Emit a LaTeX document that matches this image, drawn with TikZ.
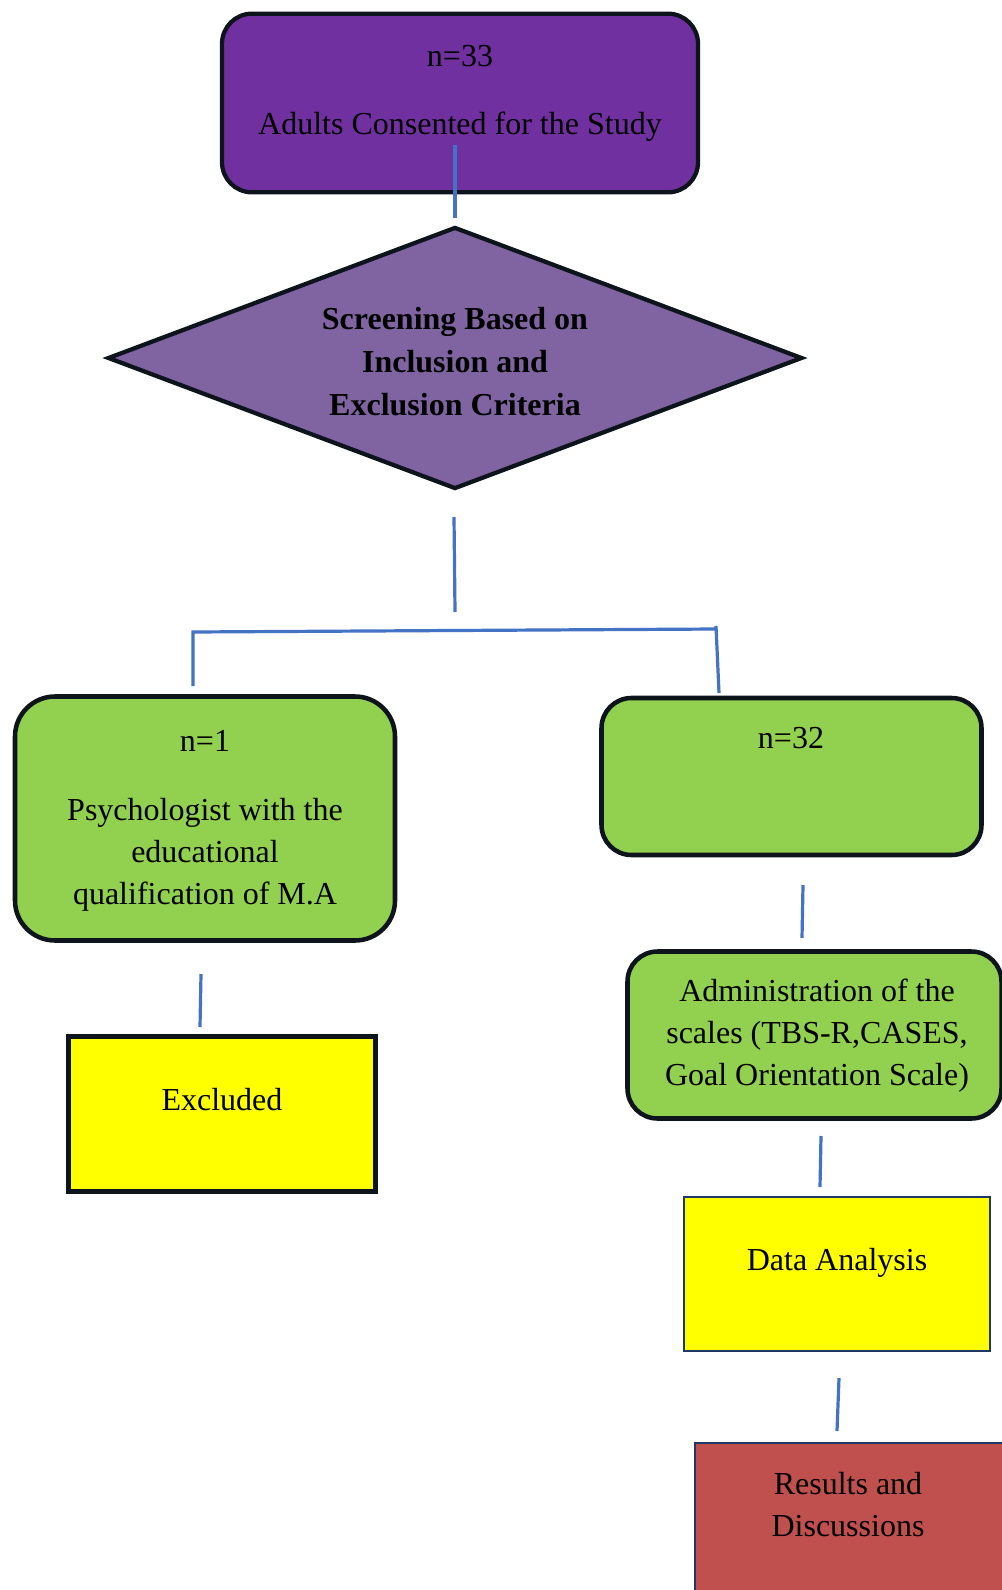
\documentclass[tikz,border=0pt]{standalone}
\usepackage{fontspec}
\setmainfont{Liberation Serif}
\usetikzlibrary{shapes.geometric}
\definecolor{consentviolet}{RGB}{112,48,160}
\definecolor{screenviolet}{RGB}{128,100,162}
\definecolor{groupgreen}{RGB}{146,208,80}
\definecolor{stepyellow}{RGB}{255,255,0}
\definecolor{resultred}{RGB}{192,80,77}
\definecolor{edgenavy}{RGB}{31,56,100}
\definecolor{outline}{RGB}{14,20,28}
\definecolor{linkblue}{RGB}{68,114,196}

\begin{document}
\begin{tikzpicture}[x=0.75pt,y=-0.75pt,
  txt/.style={inner sep=0pt,align=center,font=\fontsize{24pt}{31.5pt}\selectfont},
  boldtxt/.style={txt,font=\fontsize{24pt}{32.25pt}\selectfont\bfseries},
  roundbox/.style={draw=outline,line width=3.4pt,rounded corners=22.5pt,inner sep=0pt},
  plainbox/.style={draw=edgenavy,line width=1.5pt,inner sep=0pt},
  link/.style={draw=linkblue,line width=2.4pt}]
\useasboundingbox (0,0) rectangle (1001,1590);

\node[roundbox,fill=consentviolet,line width=3.2pt,minimum width=357pt,minimum height=134pt](consent) at (460,103){};
\node[draw=outline,line width=3.2pt,fill=screenviolet,diamond,inner sep=0pt,minimum width=521pt,minimum height=196.5pt](screen) at (455,358){};
\node[roundbox,fill=groupgreen,rounded corners=30pt,minimum width=285pt,minimum height=183pt](psych) at (205,818.5){};
\node[roundbox,fill=groupgreen,minimum width=285pt,minimum height=117.75pt](adults) at (791.5,776.5){};
\node[roundbox,fill=groupgreen,minimum width=280.5pt,minimum height=125.25pt](admin) at (814.5,1035){};
\node[draw=outline,line width=3.6pt,fill=stepyellow,inner sep=0pt,minimum width=230.25pt,minimum height=116.25pt](excluded) at (222,1114){};
\node[plainbox,fill=stepyellow,minimum width=229.5pt,minimum height=115.5pt](analysis) at (837,1274){};
\node[plainbox,fill=resultred,minimum width=240pt,minimum height=125.25pt](results) at (855,1526.5){};

\node[txt](consent-n) at (460,56){n=33};
\node[txt](consent-t) at (460,127){Adults Consented for the Study};
\node[boldtxt](screen-t) at (455,362){Screening Based on\\Inclusion and\\Exclusion Criteria};
\node[txt](psych-n) at (205,741){n=1};
\node[txt](psych-t) at (205,855){Psychologist with the\\educational\\qualification of M.A};
\node[txt](adults-n) at (791,738){n=32};
\node[txt](admin-t) at (817,1036){Administration of the\\scales (TBS-R,CASES,\\Goal Orientation Scale)};
\node[txt](excluded-t) at (222,1100){Excluded};
\node[txt](analysis-t) at (837,1263){Data Analysis};
\node[txt](results-t) at (848,1505){Results and\\Discussions};

\coordinate (a1) at (455,145);  \coordinate (a2) at (455,218);
\coordinate (b1) at (454,517);  \coordinate (b2) at (455,612);
\coordinate (bl) at (193,632);  \coordinate (br) at (717,629);
\coordinate (ld) at (193,686);
\coordinate (rt) at (716,626);  \coordinate (rd) at (719,693);
\coordinate (c1) at (201,974);  \coordinate (c2) at (200,1027);
\coordinate (d1) at (803,885);  \coordinate (d2) at (802,938);
\coordinate (e1) at (821,1136); \coordinate (e2) at (820,1187);
\coordinate (f1) at (839,1378); \coordinate (f2) at (837,1431);

\path[link]
  (a1) edge (a2)
  (b1) edge (b2)
  (rt) edge (rd)
  (c1) edge (c2)
  (d1) edge (d2)
  (e1) edge (e2)
  (f1) edge (f2);
\draw[link] (ld) -- (bl) -- (br);
\end{tikzpicture}
\end{document}
